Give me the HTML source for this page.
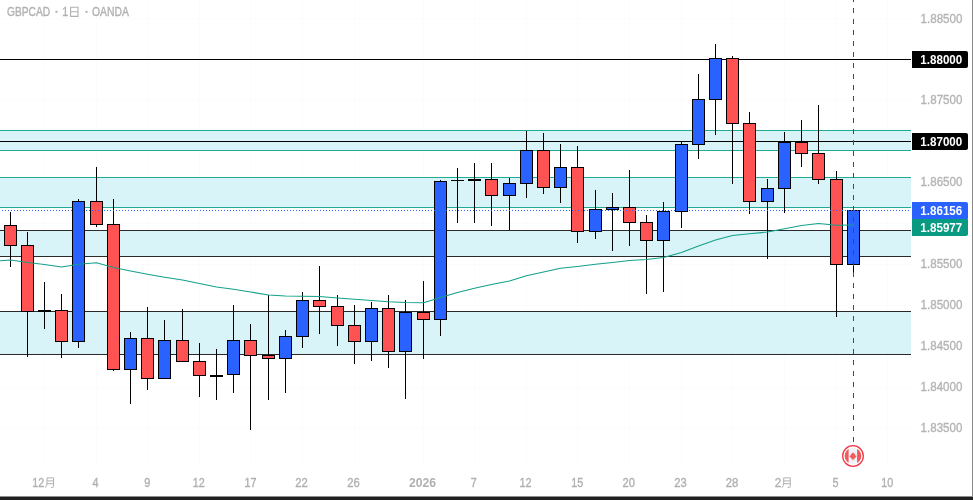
<!DOCTYPE html>
<html><head><meta charset="utf-8"><title>GBPCAD</title>
<style>
html,body{margin:0;padding:0;background:#fff;}
body{width:973px;height:500px;overflow:hidden;position:relative;font-family:"Liberation Sans",sans-serif;}
svg text{font-family:"Liberation Sans",sans-serif;}
svg text.g{stroke-width:0.35px;paint-order:stroke;}
</style></head><body>
<svg width="973" height="500" viewBox="0 0 973 500" style="display:block;position:absolute;left:0;top:0;will-change:transform">
<rect x="0" y="0" width="973" height="500" fill="#ffffff"/>
<g shape-rendering="crispEdges">
<rect x="44" y="0" width="1" height="468" fill="#fcfcfd"/>
<rect x="96" y="0" width="1" height="468" fill="#fcfcfd"/>
<rect x="147" y="0" width="1" height="468" fill="#fcfcfd"/>
<rect x="199" y="0" width="1" height="468" fill="#fcfcfd"/>
<rect x="250" y="0" width="1" height="468" fill="#fcfcfd"/>
<rect x="302" y="0" width="1" height="468" fill="#fcfcfd"/>
<rect x="354" y="0" width="1" height="468" fill="#fcfcfd"/>
<rect x="423" y="0" width="1" height="468" fill="#fcfcfd"/>
<rect x="474" y="0" width="1" height="468" fill="#fcfcfd"/>
<rect x="526" y="0" width="1" height="468" fill="#fcfcfd"/>
<rect x="577" y="0" width="1" height="468" fill="#fcfcfd"/>
<rect x="629" y="0" width="1" height="468" fill="#fcfcfd"/>
<rect x="681" y="0" width="1" height="468" fill="#fcfcfd"/>
<rect x="732" y="0" width="1" height="468" fill="#fcfcfd"/>
<rect x="784" y="0" width="1" height="468" fill="#fcfcfd"/>
<rect x="836" y="0" width="1" height="468" fill="#fcfcfd"/>
<rect x="887" y="0" width="1" height="468" fill="#fcfcfd"/>
<rect x="0" y="18" width="911" height="1" fill="#fcfcfd"/>
<rect x="0" y="59" width="911" height="1" fill="#fcfcfd"/>
<rect x="0" y="100" width="911" height="1" fill="#fcfcfd"/>
<rect x="0" y="141" width="911" height="1" fill="#fcfcfd"/>
<rect x="0" y="182" width="911" height="1" fill="#fcfcfd"/>
<rect x="0" y="223" width="911" height="1" fill="#fcfcfd"/>
<rect x="0" y="264" width="911" height="1" fill="#fcfcfd"/>
<rect x="0" y="305" width="911" height="1" fill="#fcfcfd"/>
<rect x="0" y="346" width="911" height="1" fill="#fcfcfd"/>
<rect x="0" y="387" width="911" height="1" fill="#fcfcfd"/>
<rect x="0" y="428" width="911" height="1" fill="#fcfcfd"/>
<rect x="0" y="130" width="911" height="21" fill="#d8f4f8"/>
<rect x="0" y="130" width="911" height="1" fill="#22ab94"/>
<rect x="0" y="150" width="911" height="1" fill="#22ab94"/>
<rect x="0" y="177" width="911" height="31" fill="#d8f4f8"/>
<rect x="0" y="177" width="911" height="1" fill="#22ab94"/>
<rect x="0" y="207" width="911" height="1" fill="#22ab94"/>
<rect x="0" y="230" width="911" height="27" fill="#d8f4f8"/>
<rect x="0" y="230" width="911" height="1" fill="#2a2a2a"/>
<rect x="0" y="256" width="911" height="1" fill="#2a2a2a"/>
<rect x="0" y="311" width="911" height="44" fill="#d8f4f8"/>
<rect x="0" y="311" width="911" height="1" fill="#2a2a2a"/>
<rect x="0" y="354" width="911" height="1" fill="#2a2a2a"/>
<rect x="0" y="59" width="911" height="1" fill="#000"/>
<rect x="0" y="141" width="911" height="1" fill="#000"/>
<rect x="10" y="212" width="1" height="55" fill="#000"/>
<rect x="4" y="225" width="13" height="21" fill="#000"/>
<rect x="5" y="226" width="11" height="19" fill="#ff5252"/>
<rect x="27" y="232" width="1" height="125" fill="#000"/>
<rect x="21" y="245" width="13" height="67" fill="#000"/>
<rect x="22" y="246" width="11" height="65" fill="#ff5252"/>
<rect x="44" y="282" width="1" height="47" fill="#000"/>
<rect x="38" y="310" width="13" height="2" fill="#000"/>
<rect x="61" y="294" width="1" height="64" fill="#000"/>
<rect x="55" y="310" width="13" height="32" fill="#000"/>
<rect x="56" y="311" width="11" height="30" fill="#ff5252"/>
<rect x="78" y="199" width="1" height="149" fill="#000"/>
<rect x="72" y="201" width="13" height="141" fill="#000"/>
<rect x="73" y="202" width="11" height="139" fill="#2962ff"/>
<rect x="96" y="167" width="1" height="60" fill="#000"/>
<rect x="90" y="201" width="13" height="24" fill="#000"/>
<rect x="91" y="202" width="11" height="22" fill="#ff5252"/>
<rect x="113" y="199" width="1" height="172" fill="#000"/>
<rect x="107" y="224" width="13" height="146" fill="#000"/>
<rect x="108" y="225" width="11" height="144" fill="#ff5252"/>
<rect x="130" y="332" width="1" height="72" fill="#000"/>
<rect x="124" y="338" width="13" height="32" fill="#000"/>
<rect x="125" y="339" width="11" height="30" fill="#2962ff"/>
<rect x="147" y="307" width="1" height="83" fill="#000"/>
<rect x="141" y="338" width="13" height="41" fill="#000"/>
<rect x="142" y="339" width="11" height="39" fill="#ff5252"/>
<rect x="164" y="320" width="1" height="59" fill="#000"/>
<rect x="158" y="340" width="13" height="39" fill="#000"/>
<rect x="159" y="341" width="11" height="37" fill="#2962ff"/>
<rect x="182" y="309" width="1" height="53" fill="#000"/>
<rect x="176" y="340" width="13" height="22" fill="#000"/>
<rect x="177" y="341" width="11" height="20" fill="#ff5252"/>
<rect x="199" y="343" width="1" height="54" fill="#000"/>
<rect x="193" y="361" width="13" height="15" fill="#000"/>
<rect x="194" y="362" width="11" height="13" fill="#ff5252"/>
<rect x="216" y="349" width="1" height="51" fill="#000"/>
<rect x="210" y="375" width="13" height="2" fill="#000"/>
<rect x="233" y="305" width="1" height="88" fill="#000"/>
<rect x="227" y="340" width="13" height="35" fill="#000"/>
<rect x="228" y="341" width="11" height="33" fill="#2962ff"/>
<rect x="250" y="324" width="1" height="106" fill="#000"/>
<rect x="244" y="340" width="13" height="16" fill="#000"/>
<rect x="245" y="341" width="11" height="14" fill="#ff5252"/>
<rect x="268" y="295" width="1" height="105" fill="#000"/>
<rect x="262" y="355" width="13" height="4" fill="#000"/>
<rect x="263" y="356" width="11" height="2" fill="#ff5252"/>
<rect x="285" y="330" width="1" height="63" fill="#000"/>
<rect x="279" y="336" width="13" height="23" fill="#000"/>
<rect x="280" y="337" width="11" height="21" fill="#2962ff"/>
<rect x="302" y="292" width="1" height="56" fill="#000"/>
<rect x="296" y="300" width="13" height="37" fill="#000"/>
<rect x="297" y="301" width="11" height="35" fill="#2962ff"/>
<rect x="319" y="266" width="1" height="68" fill="#000"/>
<rect x="313" y="300" width="13" height="7" fill="#000"/>
<rect x="314" y="301" width="11" height="5" fill="#ff5252"/>
<rect x="337" y="295" width="1" height="51" fill="#000"/>
<rect x="331" y="306" width="13" height="20" fill="#000"/>
<rect x="332" y="307" width="11" height="18" fill="#ff5252"/>
<rect x="354" y="305" width="1" height="59" fill="#000"/>
<rect x="348" y="325" width="13" height="17" fill="#000"/>
<rect x="349" y="326" width="11" height="15" fill="#ff5252"/>
<rect x="371" y="302" width="1" height="59" fill="#000"/>
<rect x="365" y="308" width="13" height="34" fill="#000"/>
<rect x="366" y="309" width="11" height="32" fill="#2962ff"/>
<rect x="388" y="295" width="1" height="73" fill="#000"/>
<rect x="382" y="308" width="13" height="44" fill="#000"/>
<rect x="383" y="309" width="11" height="42" fill="#ff5252"/>
<rect x="405" y="300" width="1" height="99" fill="#000"/>
<rect x="399" y="312" width="13" height="40" fill="#000"/>
<rect x="400" y="313" width="11" height="38" fill="#2962ff"/>
<rect x="423" y="281" width="1" height="78" fill="#000"/>
<rect x="417" y="312" width="13" height="8" fill="#000"/>
<rect x="418" y="313" width="11" height="6" fill="#ff5252"/>
<rect x="440" y="180" width="1" height="156" fill="#000"/>
<rect x="434" y="181" width="13" height="139" fill="#000"/>
<rect x="435" y="182" width="11" height="137" fill="#2962ff"/>
<rect x="457" y="168" width="1" height="55" fill="#000"/>
<rect x="451" y="180" width="13" height="1" fill="#000"/>
<rect x="474" y="163" width="1" height="60" fill="#000"/>
<rect x="468" y="179" width="13" height="2" fill="#000"/>
<rect x="491" y="163" width="1" height="63" fill="#000"/>
<rect x="485" y="179" width="13" height="17" fill="#000"/>
<rect x="486" y="180" width="11" height="15" fill="#ff5252"/>
<rect x="509" y="178" width="1" height="52" fill="#000"/>
<rect x="503" y="183" width="13" height="13" fill="#000"/>
<rect x="504" y="184" width="11" height="11" fill="#2962ff"/>
<rect x="526" y="131" width="1" height="67" fill="#000"/>
<rect x="520" y="150" width="13" height="34" fill="#000"/>
<rect x="521" y="151" width="11" height="32" fill="#2962ff"/>
<rect x="543" y="133" width="1" height="61" fill="#000"/>
<rect x="537" y="150" width="13" height="38" fill="#000"/>
<rect x="538" y="151" width="11" height="36" fill="#ff5252"/>
<rect x="560" y="144" width="1" height="59" fill="#000"/>
<rect x="554" y="167" width="13" height="21" fill="#000"/>
<rect x="555" y="168" width="11" height="19" fill="#2962ff"/>
<rect x="577" y="146" width="1" height="97" fill="#000"/>
<rect x="571" y="167" width="13" height="65" fill="#000"/>
<rect x="572" y="168" width="11" height="63" fill="#ff5252"/>
<rect x="595" y="190" width="1" height="49" fill="#000"/>
<rect x="589" y="209" width="13" height="23" fill="#000"/>
<rect x="590" y="210" width="11" height="21" fill="#2962ff"/>
<rect x="612" y="193" width="1" height="58" fill="#000"/>
<rect x="606" y="207" width="13" height="3" fill="#000"/>
<rect x="607" y="208" width="11" height="1" fill="#2962ff"/>
<rect x="629" y="170" width="1" height="76" fill="#000"/>
<rect x="623" y="207" width="13" height="16" fill="#000"/>
<rect x="624" y="208" width="11" height="14" fill="#ff5252"/>
<rect x="646" y="215" width="1" height="79" fill="#000"/>
<rect x="640" y="222" width="13" height="19" fill="#000"/>
<rect x="641" y="223" width="11" height="17" fill="#ff5252"/>
<rect x="663" y="202" width="1" height="90" fill="#000"/>
<rect x="657" y="211" width="13" height="30" fill="#000"/>
<rect x="658" y="212" width="11" height="28" fill="#2962ff"/>
<rect x="681" y="142" width="1" height="86" fill="#000"/>
<rect x="675" y="144" width="13" height="68" fill="#000"/>
<rect x="676" y="145" width="11" height="66" fill="#2962ff"/>
<rect x="698" y="74" width="1" height="85" fill="#000"/>
<rect x="692" y="99" width="13" height="46" fill="#000"/>
<rect x="693" y="100" width="11" height="44" fill="#2962ff"/>
<rect x="715" y="44" width="1" height="91" fill="#000"/>
<rect x="709" y="58" width="13" height="42" fill="#000"/>
<rect x="710" y="59" width="11" height="40" fill="#2962ff"/>
<rect x="732" y="56" width="1" height="128" fill="#000"/>
<rect x="726" y="58" width="13" height="66" fill="#000"/>
<rect x="727" y="59" width="11" height="64" fill="#ff5252"/>
<rect x="749" y="112" width="1" height="102" fill="#000"/>
<rect x="743" y="123" width="13" height="79" fill="#000"/>
<rect x="744" y="124" width="11" height="77" fill="#ff5252"/>
<rect x="767" y="179" width="1" height="80" fill="#000"/>
<rect x="761" y="188" width="13" height="14" fill="#000"/>
<rect x="762" y="189" width="11" height="12" fill="#2962ff"/>
<rect x="784" y="132" width="1" height="81" fill="#000"/>
<rect x="778" y="142" width="13" height="47" fill="#000"/>
<rect x="779" y="143" width="11" height="45" fill="#2962ff"/>
<rect x="801" y="120" width="1" height="47" fill="#000"/>
<rect x="795" y="142" width="13" height="12" fill="#000"/>
<rect x="796" y="143" width="11" height="10" fill="#ff5252"/>
<rect x="818" y="105" width="1" height="79" fill="#000"/>
<rect x="812" y="153" width="13" height="27" fill="#000"/>
<rect x="813" y="154" width="11" height="25" fill="#ff5252"/>
<rect x="836" y="171" width="1" height="146" fill="#000"/>
<rect x="830" y="179" width="13" height="86" fill="#000"/>
<rect x="831" y="180" width="11" height="84" fill="#ff5252"/>
<rect x="853" y="210" width="1" height="62" fill="#000"/>
<rect x="847" y="210" width="13" height="55" fill="#000"/>
<rect x="848" y="211" width="11" height="53" fill="#2962ff"/>
</g>
<polyline points="0,260.75 10.5,260 27.5,262.5 44.5,264.5 61.5,267 78.5,264.25 96.5,262.75 113.5,267.5 130.5,271 147.5,274.25 164.5,277.2 182.5,280 199.5,283.5 216.5,287 233.5,289.3 250.5,292 268.5,295 285.5,296 302.5,296.3 319.5,296.5 337.5,298 354.5,299.25 371.5,300.5 388.5,301.75 405.5,302.5 423.5,302.75 440.5,297.5 457.5,292.5 474.5,288.2 491.5,284.5 509.5,281 526.5,275.75 543.5,272 560.5,268.25 577.5,266.5 595.5,264.25 612.5,262.5 629.5,260.5 646.5,259.5 663.5,257.5 681.5,252.5 698.5,246 715.5,240 732.5,235.5 749.5,233.7 767.5,232 784.5,228.7 801.5,225.5 818.5,223.5 836.5,225.25 853.5,225" fill="none" stroke="#14a08a" stroke-width="1.1" stroke-linejoin="round"/>
<g shape-rendering="crispEdges">
<line x1="2" y1="210.5" x2="911" y2="210.5" stroke="#2962ff" stroke-width="1" stroke-dasharray="1 2"/>
<line x1="853.5" y1="-3" x2="853.5" y2="443" stroke="#4a4a4a" stroke-width="1" stroke-dasharray="5 6"/>
<rect x="972" y="0" width="1" height="496" fill="#8a8a8a"/>
<rect x="0" y="496" width="973" height="1" fill="#8c8c8c"/>
<rect x="0" y="497" width="973" height="3" fill="#202020"/>
</g>
<path d="M912,51 H966 Q968,51 968,53 V66 Q968,68 966,68 H912 Z" fill="#000"/>
<text x="920.3" y="63.8" font-size="12" font-weight="bold" fill="#fff" textLength="42" lengthAdjust="spacingAndGlyphs">1.88000</text>
<path d="M912,133 H966 Q968,133 968,135 V148 Q968,150 966,150 H912 Z" fill="#000"/>
<text x="920.3" y="145.8" font-size="12" font-weight="bold" fill="#fff" textLength="42" lengthAdjust="spacingAndGlyphs">1.87000</text>
<path d="M912,202 H966 Q968,202 968,204 V218.2 Q968,219 967.2,219 H912 Z" fill="#2962ff"/>
<text x="920.3" y="214.8" font-size="12" font-weight="bold" fill="#fff" textLength="42" lengthAdjust="spacingAndGlyphs">1.86156</text>
<path d="M912,219 H967.2 Q968,219 968,219.8 V234 Q968,236 966,236 H912 Z" fill="#089981"/>
<text x="920.3" y="231.8" font-size="12" font-weight="bold" fill="#fff" textLength="42" lengthAdjust="spacingAndGlyphs">1.85977</text>
<text x="920.6" y="22.5" font-size="12" class="g" stroke="#b4b4b4" fill="#b4b4b4" textLength="41.8" lengthAdjust="spacingAndGlyphs">1.88500</text>
<text x="920.6" y="104.32" font-size="12" class="g" stroke="#b4b4b4" fill="#b4b4b4" textLength="41.8" lengthAdjust="spacingAndGlyphs">1.87500</text>
<text x="920.6" y="186.14" font-size="12" class="g" stroke="#b4b4b4" fill="#b4b4b4" textLength="41.8" lengthAdjust="spacingAndGlyphs">1.86500</text>
<text x="920.6" y="267.96" font-size="12" class="g" stroke="#b4b4b4" fill="#b4b4b4" textLength="41.8" lengthAdjust="spacingAndGlyphs">1.85500</text>
<text x="920.6" y="308.87" font-size="12" class="g" stroke="#b4b4b4" fill="#b4b4b4" textLength="41.8" lengthAdjust="spacingAndGlyphs">1.85000</text>
<text x="920.6" y="349.78" font-size="12" class="g" stroke="#b4b4b4" fill="#b4b4b4" textLength="41.8" lengthAdjust="spacingAndGlyphs">1.84500</text>
<text x="920.6" y="390.69" font-size="12" class="g" stroke="#b4b4b4" fill="#b4b4b4" textLength="41.8" lengthAdjust="spacingAndGlyphs">1.84000</text>
<text x="920.6" y="431.6" font-size="12" class="g" stroke="#b4b4b4" fill="#b4b4b4" textLength="41.8" lengthAdjust="spacingAndGlyphs">1.83500</text>
<text x="92.6" y="487" font-size="12.5" class="g" stroke="#b0b0b0" fill="#b0b0b0" textLength="6" lengthAdjust="spacingAndGlyphs">4</text>
<text x="144.2" y="487" font-size="12.5" class="g" stroke="#b0b0b0" fill="#b0b0b0" textLength="6" lengthAdjust="spacingAndGlyphs">9</text>
<text x="192.8" y="487" font-size="12.5" class="g" stroke="#b0b0b0" fill="#b0b0b0" textLength="12" lengthAdjust="spacingAndGlyphs">12</text>
<text x="244.5" y="487" font-size="12.5" class="g" stroke="#b0b0b0" fill="#b0b0b0" textLength="12" lengthAdjust="spacingAndGlyphs">17</text>
<text x="295.35" y="487" font-size="12.5" class="g" stroke="#b0b0b0" fill="#b0b0b0" textLength="12.5" lengthAdjust="spacingAndGlyphs">22</text>
<text x="347.15" y="487" font-size="12.5" class="g" stroke="#b0b0b0" fill="#b0b0b0" textLength="12.5" lengthAdjust="spacingAndGlyphs">26</text>
<text x="409.1" y="487" font-size="12.5" font-weight="bold" fill="#b0b0b0" textLength="27" lengthAdjust="spacingAndGlyphs">2026</text>
<text x="470.7" y="487" font-size="12.5" class="g" stroke="#b0b0b0" fill="#b0b0b0" textLength="6" lengthAdjust="spacingAndGlyphs">7</text>
<text x="519.5" y="487" font-size="12.5" class="g" stroke="#b0b0b0" fill="#b0b0b0" textLength="12" lengthAdjust="spacingAndGlyphs">12</text>
<text x="571.2" y="487" font-size="12.5" class="g" stroke="#b0b0b0" fill="#b0b0b0" textLength="12" lengthAdjust="spacingAndGlyphs">15</text>
<text x="622.45" y="487" font-size="12.5" class="g" stroke="#b0b0b0" fill="#b0b0b0" textLength="12.5" lengthAdjust="spacingAndGlyphs">20</text>
<text x="674.25" y="487" font-size="12.5" class="g" stroke="#b0b0b0" fill="#b0b0b0" textLength="12.5" lengthAdjust="spacingAndGlyphs">23</text>
<text x="725.75" y="487" font-size="12.5" class="g" stroke="#b0b0b0" fill="#b0b0b0" textLength="12.5" lengthAdjust="spacingAndGlyphs">28</text>
<text x="832.5" y="487" font-size="12.5" class="g" stroke="#b0b0b0" fill="#b0b0b0" textLength="6" lengthAdjust="spacingAndGlyphs">5</text>
<text x="881.2" y="487" font-size="12.5" class="g" stroke="#b0b0b0" fill="#b0b0b0" textLength="12" lengthAdjust="spacingAndGlyphs">10</text>
<text x="32.3" y="487" font-size="12.5" class="g" stroke="#b0b0b0" fill="#b0b0b0" textLength="12" lengthAdjust="spacingAndGlyphs">12</text>
<g fill="none" stroke="#b0b0b0" stroke-width="1"><path d="M47.0,477.90000000000003 H53.599999999999994 V486.3 Q53.599999999999994,487.40000000000003 52.4,487.40000000000003 H51.0 M47.0,477.90000000000003 V482.8 Q47.0,486.1 45.3,487.7 M47.0,480.90000000000003 H53.599999999999994 M47.0,483.7 H53.599999999999994"/></g>
<text x="774.7" y="487" font-size="12.5" class="g" stroke="#b0b0b0" fill="#b0b0b0" textLength="6.5" lengthAdjust="spacingAndGlyphs">2</text>
<g fill="none" stroke="#b0b0b0" stroke-width="1"><path d="M783.7,477.90000000000003 H790.3 V486.3 Q790.3,487.40000000000003 789.1,487.40000000000003 H787.7 M783.7,477.90000000000003 V482.8 Q783.7,486.1 782.0,487.7 M783.7,480.90000000000003 H790.3 M783.7,483.7 H790.3"/></g>
<text x="7" y="16.2" font-size="12.5" class="g" stroke="#b0b0b0" fill="#b0b0b0" textLength="43.2" lengthAdjust="spacingAndGlyphs">GBPCAD</text>
<rect x="55.5" y="10.8" width="2" height="2" fill="#b0b0b0"/>
<text x="62.3" y="16.2" font-size="12.5" class="g" stroke="#b0b0b0" fill="#b0b0b0" textLength="6" lengthAdjust="spacingAndGlyphs">1</text>
<g fill="none" stroke="#b0b0b0" stroke-width="1.1"><path d="M70.6,7.3 H78 V16.4 H70.6 Z M70.6,11.7 H78"/></g>
<rect x="85.5" y="10.8" width="2" height="2" fill="#b0b0b0"/>
<text x="92" y="16.2" font-size="12.5" class="g" stroke="#b0b0b0" fill="#b0b0b0" textLength="37" lengthAdjust="spacingAndGlyphs">OANDA</text>
<circle cx="853" cy="456" r="10.3" fill="#fff" stroke="#f23645" stroke-width="1.3"/>
<clipPath id="fc"><circle cx="853" cy="456" r="8.3"/></clipPath>
<g clip-path="url(#fc)"><rect x="844" y="447" width="18" height="18" fill="#f0f3fa"/><rect x="844" y="447" width="4.6" height="18" fill="#f05a5a"/><rect x="857.1" y="447" width="4.9" height="18" fill="#f05a5a"/>
<path transform="translate(853 455.8) scale(1.18) translate(-853 -456)" d="M853,452.8 l0.9,1.6 l1,-0.5 l-0.4,2 l1.3,-0.6 l-0.3,1 l0.7,0.3 l-2.2,1.7 l0.3,0.9 l-1.1,-0.2 v1.2 h-0.4 v-1.2 l-1.1,0.2 l0.3,-0.9 l-2.2,-1.7 l0.7,-0.3 l-0.3,-1 l1.3,0.6 l-0.4,-2 l1,0.5 z" fill="#f05a5a"/></g>
</svg>
</body></html>
